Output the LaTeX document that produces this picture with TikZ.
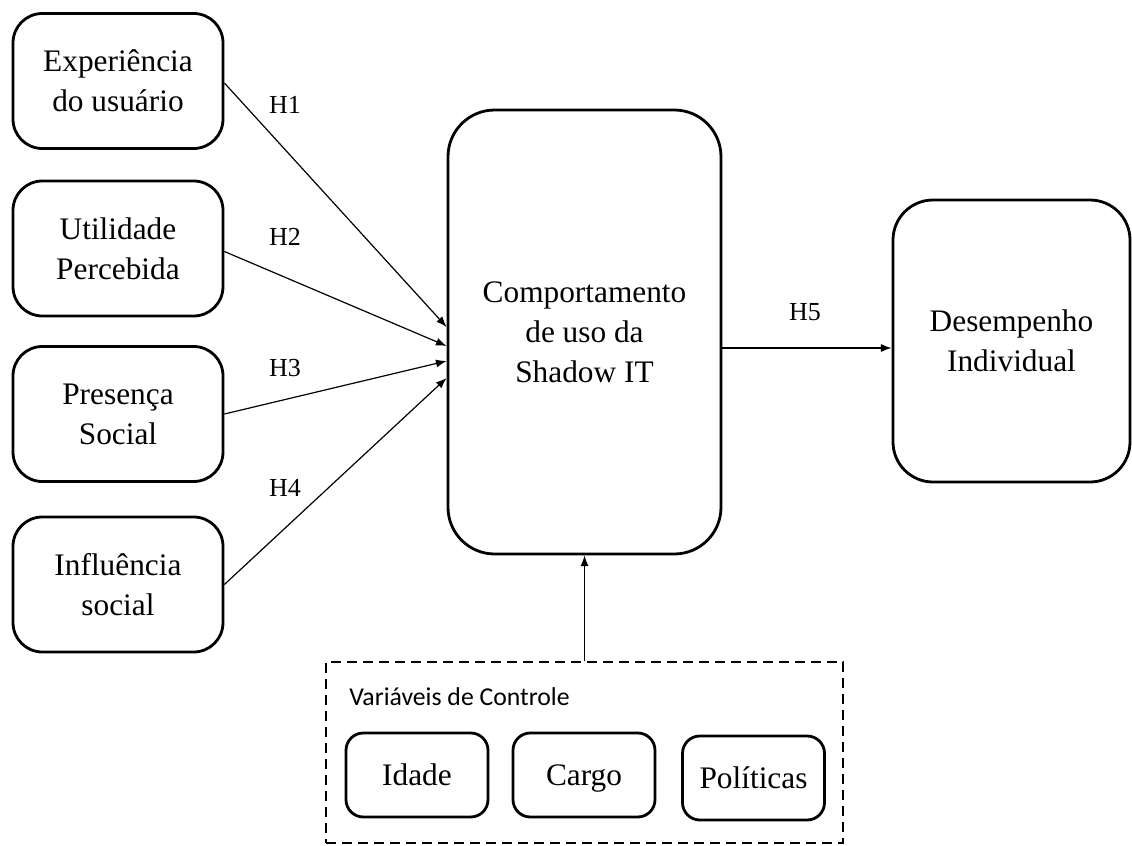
\documentclass[tikz,border=0pt]{standalone}
\usepackage{fontspec}
\setmainfont{Liberation Serif}
\newfontfamily\calib{Carlito}
\usetikzlibrary{arrows.meta,calc}
\begin{document}
\begin{tikzpicture}[x=0.75pt,y=-0.75pt,
  box/.style={draw, line width=2.1pt, rounded corners=#1, align=center, inner sep=0pt,
    font=\fontsize{23.5}{30}\selectfont},
  leftbox/.style={box=22pt, minimum width=157.5pt, minimum height=101.25pt},
  smallbox/.style={box=13pt, minimum width=106.5pt, minimum height=63pt,
    text height=16pt, text depth=1pt},
  arr/.style={line width=0.9pt, -{Latex[length=8pt,width=6pt]}},
  hlab/.style={inner sep=0pt, font=\fontsize{19.5}{22}\selectfont}]
\useasboundingbox (0,0) rectangle (1132,846);

\node[leftbox] (b1) at (118,81) {Experiência\\do usuário};
\node[leftbox] (b2) at (118,248.5) {Utilidade\\Percebida};
\node[leftbox] (b3) at (118,414) {Presença\\Social};
\node[leftbox] (b4) at (118,584.5) {Influência\\social};

\node[box=35pt, minimum width=204.75pt, minimum height=333pt] (c) at (584.5,332)
  {Comportamento\\de uso da\\Shadow IT};
\node[box=30pt, minimum width=177.75pt, minimum height=211.5pt] (d) at (1011.5,341)
  {Desempenho\\Individual};

\node[draw, dashed, dash pattern=on 7.5pt off 4.5pt, line width=2.1pt,
  minimum width=387.75pt, minimum height=135.75pt, inner sep=0pt] (ctrl) at (584.5,752.5) {};
\node[anchor=base west, inner sep=0pt, font=\calib\fontsize{19.3}{22}\selectfont] (ctitle) at (349,705)
  {Variáveis de Controle};
\node[smallbox] (s1) at (417,775) {Idade};
\node[smallbox] (s2) at (584,775) {Cargo};
\node[smallbox] (s3) at (753.5,778) {Políticas};

\coordinate (e1) at ($(c.west)+(0,-5)$);
\coordinate (e2) at ($(c.west)+(0,14)$);
\coordinate (e3) at ($(c.west)+(0,29)$);
\coordinate (e4) at ($(c.west)+(0,46)$);
\coordinate (e5) at ($(c.east)+(0,16)$);

\draw[arr] ($(b1.east)+(0,2)$) -- (e1);
\draw[arr] ($(b2.east)+(0,3)$) -- (e2);
\draw[arr] (b3.east) -- (e3);
\draw[arr] (b4.east) -- (e4);
\draw[arr] (e5) -- (e5 -| d.west);
\draw[arr] (ctrl.north) -- (c.south);

\node[hlab] (h1) at (285,105) {H1};
\node[hlab] (h2) at (285,237) {H2};
\node[hlab] (h3) at (285,368) {H3};
\node[hlab] (h4) at (285,488) {H4};
\node[hlab] (h5) at (805,312) {H5};
\end{tikzpicture}
\end{document}
